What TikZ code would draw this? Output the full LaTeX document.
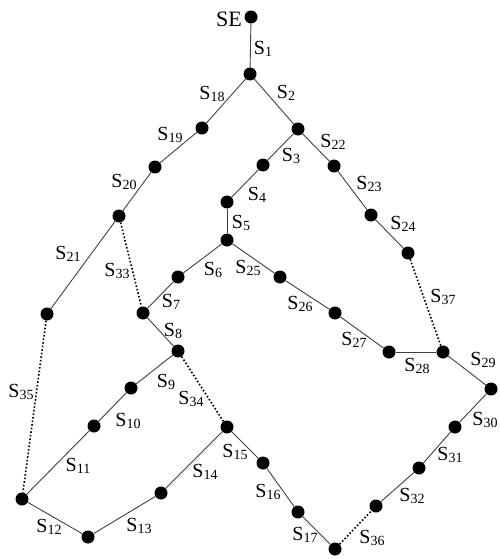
\documentclass[tikz,border=0pt]{standalone}
\usepackage{fontspec}
\setmainfont{Liberation Serif}
\newcommand\lbS[1]{S\raisebox{-2.5pt}{\fontsize{14}{14}\selectfont #1}}
\begin{document}
\begin{tikzpicture}[x=1pt,y=-1pt,
  dot/.style={circle,fill=black,inner sep=0pt,minimum size=13pt},
  seg/.style={draw=black!75,line width=0.9pt},
  dots/.style={draw=black,line width=1.6pt,dotted},
  lab/.style={inner sep=0pt,font=\fontsize{20}{22}\selectfont}]
\useasboundingbox (0,0) rectangle (499,559);
% nodes
\node[dot] (se) at (251,17) {};
\node[dot] (a1) at (250,74) {};
\node[dot] (b18) at (202,128) {};
\node[dot] (b19) at (155,167) {};
\node[dot] (b20) at (119,216) {};
\node[dot] (b21) at (47,314) {};
\node[dot] (b35) at (22,499) {};
\node[dot] (a2) at (298,129) {};
\node[dot] (a3) at (263,165) {};
\node[dot] (a4) at (227,202) {};
\node[dot] (a5) at (227,240) {};
\node[dot] (a6) at (178,277) {};
\node[dot] (a7) at (143,313) {};
\node[dot] (a8) at (178,351) {};
\node[dot] (a9) at (131,388) {};
\node[dot] (a10) at (94,426) {};
\node[dot] (a12) at (88,537) {};
\node[dot] (a13) at (161,493) {};
\node[dot] (a14) at (227,427) {};
\node[dot] (a15) at (263,463) {};
\node[dot] (a16) at (298,512) {};
\node[dot] (a17) at (335,549) {};
\node[dot] (a32) at (376,506) {};
\node[dot] (a31) at (419,468) {};
\node[dot] (a30) at (455,427) {};
\node[dot] (a29) at (491,389) {};
\node[dot] (a28) at (443,352) {};
\node[dot] (a27) at (389,352) {};
\node[dot] (a26) at (335,313) {};
\node[dot] (a25) at (280,277) {};
\node[dot] (a22) at (334,166) {};
\node[dot] (a23) at (371,215) {};
\node[dot] (a24) at (408,253) {};
% solid edges
\draw[seg] (se) -- (a1);
\draw[seg] (a1) -- (b18);
\draw[seg] (b18) -- (b19);
\draw[seg] (b19) -- (b20);
\draw[seg] (b20) -- (b21);
\draw[seg] (a1) -- (a2);
\draw[seg] (a2) -- (a3);
\draw[seg] (a3) -- (a4);
\draw[seg] (a4) -- (a5);
\draw[seg] (a5) -- (a6);
\draw[seg] (a6) -- (a7);
\draw[seg] (a7) -- (a8);
\draw[seg] (a8) -- (a9);
\draw[seg] (a9) -- (a10);
\draw[seg] (a10) -- (b35);
\draw[seg] (b35) -- (a12);
\draw[seg] (a12) -- (a13);
\draw[seg] (a13) -- (a14);
\draw[seg] (a14) -- (a15);
\draw[seg] (a15) -- (a16);
\draw[seg] (a16) -- (a17);
\draw[seg] (a32) -- (a31);
\draw[seg] (a31) -- (a30);
\draw[seg] (a30) -- (a29);
\draw[seg] (a29) -- (a28);
\draw[seg] (a28) -- (a27);
\draw[seg] (a27) -- (a26);
\draw[seg] (a26) -- (a25);
\draw[seg] (a25) -- (a5);
\draw[seg] (a2) -- (a22);
\draw[seg] (a22) -- (a23);
\draw[seg] (a23) -- (a24);
% dotted edges
\draw[dots] (b20) -- (a7);
\draw[dots] (a8) -- (a14);
\draw[dots] (b21) -- (b35);
\draw[dots] (a17) -- (a32);
\draw[dots] (a24) -- (a28);
% labels
\node[lab,font=\fontsize{22}{24}\selectfont] (lse) at (229,19) {SE};
\node[lab] (l1) at (263,49) {\lbS{1}};
\node[lab] (l2) at (286,93) {\lbS{2}};
\node[lab] (l3) at (291,156) {\lbS{3}};
\node[lab] (l4) at (257,195) {\lbS{4}};
\node[lab] (l5) at (241,223) {\lbS{5}};
\node[lab] (l6) at (213,270) {\lbS{6}};
\node[lab] (l7) at (171,302) {\lbS{7}};
\node[lab] (l8) at (173,331) {\lbS{8}};
\node[lab] (l9) at (166,382) {\lbS{9}};
\node[lab] (l10) at (128,421) {\lbS{10}};
\node[lab] (l11) at (78,466) {\lbS{11}};
\node[lab] (l12) at (49,527) {\lbS{12}};
\node[lab] (l13) at (139,526) {\lbS{13}};
\node[lab] (l14) at (205,472) {\lbS{14}};
\node[lab] (l15) at (235,452) {\lbS{15}};
\node[lab] (l16) at (268,492) {\lbS{16}};
\node[lab] (l17) at (305,535) {\lbS{17}};
\node[lab] (l18) at (212,94) {\lbS{18}};
\node[lab] (l19) at (170,135) {\lbS{19}};
\node[lab] (l20) at (124,182) {\lbS{20}};
\node[lab] (l21) at (68,254) {\lbS{21}};
\node[lab] (l22) at (333,142) {\lbS{22}};
\node[lab] (l23) at (369,184) {\lbS{23}};
\node[lab] (l24) at (403,224) {\lbS{24}};
\node[lab] (l25) at (248,268) {\lbS{25}};
\node[lab] (l26) at (300,304) {\lbS{26}};
\node[lab] (l27) at (354,340) {\lbS{27}};
\node[lab] (l28) at (417,366) {\lbS{28}};
\node[lab] (l29) at (483,360) {\lbS{29}};
\node[lab] (l30) at (485,420) {\lbS{30}};
\node[lab] (l31) at (450,455) {\lbS{31}};
\node[lab] (l32) at (412,496) {\lbS{32}};
\node[lab] (l33) at (117,271) {\lbS{33}};
\node[lab] (l34) at (191,399) {\lbS{34}};
\node[lab] (l35) at (21,392) {\lbS{35}};
\node[lab] (l36) at (372,538) {\lbS{36}};
\node[lab] (l37) at (443,297) {\lbS{37}};
\end{tikzpicture}
\end{document}
